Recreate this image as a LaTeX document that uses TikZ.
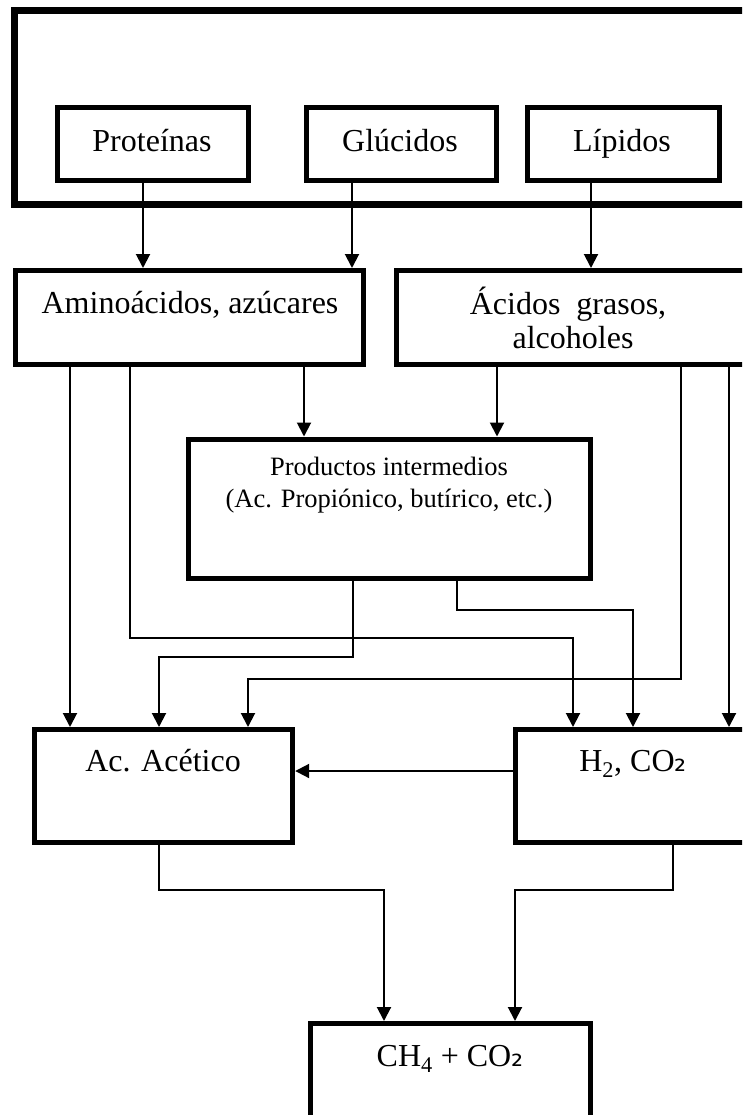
\documentclass[tikz,border=0pt]{standalone}
\usepackage{fontspec}
\setmainfont{Liberation Serif}
\newfontfamily\subfont{DejaVu Sans}
\usetikzlibrary{arrows.meta}
\tikzset{
  box/.style={draw=black, line width=5pt, fill=white, rectangle, inner sep=0pt},
  outerbox/.style={draw=black, line width=7pt, rectangle, inner sep=0pt},
  lbl/.style={inner sep=0pt, anchor=base, font=\fontsize{32}{37}\selectfont},
  slbl/.style={inner sep=0pt, anchor=base, font=\fontsize{26.5}{31}\selectfont},
  arr/.style={draw=black, line width=2pt, -{Triangle[length=14pt,width=14pt]}},
}
\newcommand{\subtwo}{{\subfont\fontsize{30}{30}\selectfont\char"2082}}
\begin{document}
\begin{tikzpicture}[x=1pt,y=-1pt]
\useasboundingbox (0,0) rectangle (742,1115);
\clip (0,0) rectangle (742,1115);
\fill[white] (0,0) rectangle (742,1115);
% boxes
\node[outerbox, minimum width=746pt, minimum height=194pt] (outer) at (387,107.5) {};
\node[box, minimum width=190.5pt, minimum height=73pt] (prot) at (152.75,144.5) {};
\node[box, minimum width=190.5pt, minimum height=73pt] (gluc) at (401.25,144.5) {};
\node[box, minimum width=192pt, minimum height=73pt] (lip) at (623,144.5) {};
\node[box, minimum width=348.2pt, minimum height=94pt] (amino) at (189.6,317.5) {};
\node[box, minimum width=353.5pt, minimum height=94pt] (acid) at (573.25,317.5) {};
\node[box, minimum width=402pt, minimum height=139.5pt] (prod) at (389,508.75) {};
\node[box, minimum width=258.7pt, minimum height=112.5pt] (acac) at (163.35,785.75) {};
\node[box, minimum width=236pt, minimum height=112.5pt] (h2) at (633,785.75) {};
\node[box, minimum width=280pt, minimum height=116.5pt] (ch4) at (450.5,1081.75) {};
% texts
\node[lbl] (tprot) at (152,151.5) {Proteínas};
\node[lbl] (tgluc) at (400,151.5) {Glúcidos};
\node[lbl] (tlip) at (622,151.5) {Lípidos};
\node[lbl] (tamino) at (190,313) {Aminoácidos, azúcares};
\node[lbl] (tacid1) at (568,314) {Ácidos\ \ grasos,};
\node[lbl] (tacid2) at (573,348) {alcoholes};
\node[slbl] (tprod1) at (389,475) {Productos intermedios};
\node[slbl] (tprod2) at (389,507) {(Ac. Propiónico, butírico, etc.)};
\node[lbl] (tacac) at (163,771) {Ac. Acético};
\node[lbl] (th2) at (633,771.5) {H\textsubscript{2}, CO\subtwo};
\node[lbl] (tch4) at (450,1066.5) {CH\textsubscript{4} + CO\subtwo};
% connectors
\draw[arr] (143,0 |- prot.south) -- (143,0 |- amino.north);
\draw[arr] (352,0 |- gluc.south) -- (352,0 |- amino.north);
\draw[arr] (591,0 |- lip.south) -- (591,0 |- acid.north);
\draw[arr] (70,0 |- amino.south) -- (70,0 |- acac.north);
\draw[arr] (130,0 |- amino.south) -- (130,638) -- (573,638) -- (573,0 |- h2.north);
\draw[arr] (304,0 |- amino.south) -- (304,0 |- prod.north);
\draw[arr] (497,0 |- acid.south) -- (497,0 |- prod.north);
\draw[arr] (681,0 |- acid.south) -- (681,679) -- (248,679) -- (248,0 |- acac.north);
\draw[arr] (729,0 |- acid.south) -- (729,0 |- h2.north);
\draw[arr] (353,0 |- prod.south) -- (353,657) -- (159,657) -- (159,0 |- acac.north);
\draw[arr] (457,0 |- prod.south) -- (457,610) -- (633,610) -- (633,0 |- h2.north);
\draw[arr] (h2.west |- 0,771) -- (acac.east |- 0,771);
\draw[arr] (159,0 |- acac.south) -- (159,890) -- (384,890) -- (384,0 |- ch4.north);
\draw[arr] (673,0 |- h2.south) -- (673,890) -- (515,890) -- (515,0 |- ch4.north);
\end{tikzpicture}
\end{document}
